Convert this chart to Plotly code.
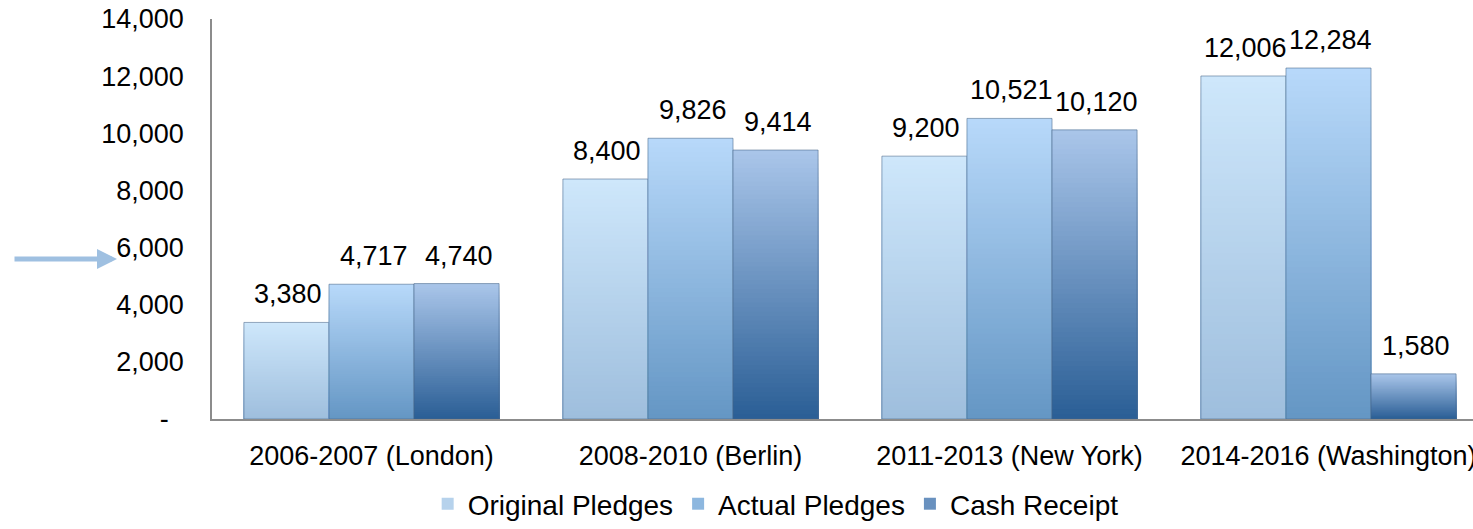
import plotly.graph_objects as go

# Replenishment rounds and pledge amounts
categories = ["2006-2007 (London)", "2008-2010 (Berlin)",
              "2011-2013 (New York)", "2014-2016 (Washington)"]
original_pledges = [3380, 8400, 9200, 12006]
actual_pledges = [4717, 9826, 10521, 12284]
cash_receipt = [4740, 9414, 10120, 1580]

series_names = ["Original Pledges", "Actual Pledges", "Cash Receipt"]
series_values = [original_pledges, actual_pledges, cash_receipt]

y_tick_values = [0, 2000, 4000, 6000, 8000, 10000, 12000, 14000]
y_tick_labels = ["-\u00a0\u00a0", "2,000", "4,000", "6,000", "8,000",
                 "10,000", "12,000", "14,000"]

# top / bottom colours of the vertical gradient for each series
top_colors = [(206, 231, 251), (184, 217, 250), (170, 198, 234)]
bottom_colors = [(158, 190, 221), (100, 150, 196), (42, 94, 149)]

FONT = "Liberation Sans, Arial, sans-serif"
FONT_SIZE = 27
N_LAYERS = 60

# layout geometry (pixels)
FIG_W, FIG_H = 1473, 529
M_L, M_R, M_T, M_B = 212, 0, 19, 104
BARGAP = 0.2
X_RANGE = [-0.5, 3.453]


def blend(c0, c1, f):
    return "rgb({},{},{})".format(*[round(a + (b - a) * f) for a, b in zip(c0, c1)])


fig = go.Figure()

for s, (name, vals) in enumerate(zip(series_names, series_values)):
    # stacked-over layers: full bar in the lightest tone, each following
    # (shorter) layer drawn on top in a darker tone -> vertical gradient
    for k in range(N_LAYERS):
        frac = (N_LAYERS - k) / N_LAYERS
        color = blend(bottom_colors[s], top_colors[s], (N_LAYERS - k - 0.5) / N_LAYERS)
        fig.add_trace(go.Bar(
            x=categories,
            y=[v * frac for v in vals],
            offsetgroup=str(s),
            legendgroup=name,
            name=name,
            showlegend=(k == N_LAYERS // 2),
            marker=dict(color=color, line=dict(width=0)),
            hoverinfo="skip",
        ))
    # thin outline around each bar
    fig.add_trace(go.Bar(
        x=categories,
        y=vals,
        offsetgroup=str(s),
        legendgroup=name,
        name=name,
        showlegend=False,
        marker=dict(color="rgba(0,0,0,0)",
                    line=dict(color="rgba(70,100,135,0.55)", width=1)),
        hovertemplate="%{x}<br>" + name + ": %{y:,}<extra></extra>",
    ))

# value labels above each bar
plot_w = FIG_W - M_L - M_R
cat_px = plot_w / (X_RANGE[1] - X_RANGE[0])
bar_px = cat_px * (1 - BARGAP) / len(series_names)
annotations = []
for s, vals in enumerate(series_values):
    shift = (s - (len(series_names) - 1) / 2) * bar_px
    for cat, v in zip(categories, vals):
        annotations.append(dict(
            x=cat, y=v, xref="x", yref="y",
            text=f"{v:,}", showarrow=False,
            xanchor="center", yanchor="bottom",
            xshift=shift + 2, yshift=11,
            font=dict(family=FONT, size=FONT_SIZE, color="#000000"),
        ))

# pointer arrow next to the 6,000 label
annotations.append(dict(
    x=(117 - M_L) / plot_w, y=0.40, xref="paper", yref="paper",
    ax=-104, ay=0, text="", showarrow=True,
    arrowhead=2, arrowsize=0.8, arrowwidth=5, arrowcolor="#9fc0e1",
))

fig.update_layout(
    width=FIG_W, height=FIG_H,
    margin=dict(l=M_L, r=M_R, t=M_T, b=M_B, pad=0),
    paper_bgcolor="white", plot_bgcolor="white",
    barmode="group", bargap=BARGAP, bargroupgap=0,
    font=dict(family=FONT, size=FONT_SIZE, color="#000000"),
    annotations=annotations,
    showlegend=True,
    legend=dict(
        orientation="h", x=0.447, xanchor="center", y=-0.214, yanchor="middle",
        font=dict(family=FONT, size=28, color="#000000"),
        itemclick=False, itemdoubleclick=False,
        bgcolor="rgba(0,0,0,0)",
    ),
    xaxis=dict(
        range=X_RANGE, showgrid=False, zeroline=False,
        showline=True, linecolor="#8c8c8c", linewidth=1.5,
        ticks="", ticklabelstandoff=12, automargin=False,
        tickfont=dict(family=FONT, size=FONT_SIZE, color="#000000"),
    ),
    yaxis=dict(
        range=[0, 14000], showgrid=False, zeroline=False,
        showline=True, linecolor="#8c8c8c", linewidth=1.5,
        tickvals=y_tick_values, ticktext=y_tick_labels,
        ticks="", ticklabelstandoff=21, automargin=False,
        tickfont=dict(family=FONT, size=FONT_SIZE, color="#000000"),
    ),
)

fig.write_html("out.html")
